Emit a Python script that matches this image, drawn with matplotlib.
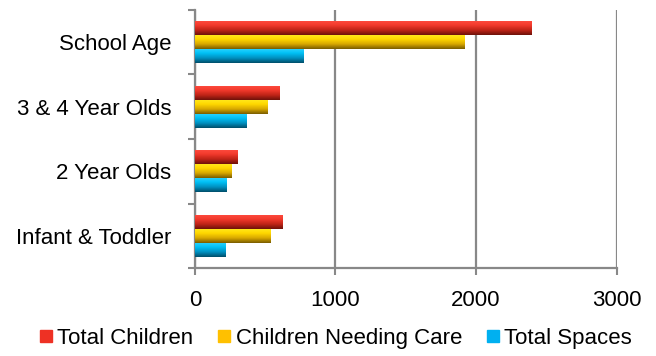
import matplotlib
matplotlib.use("Agg")
import matplotlib.pyplot as plt
import numpy as np
from matplotlib.colors import LinearSegmentedColormap
from matplotlib.lines import Line2D

categories = ["Infant & Toddler", "2 Year Olds", "3 & 4 Year Olds", "School Age"]
total_children = [624, 302, 600, 2390]
needing_care = [534, 257, 515, 1917]
total_spaces = [215, 227, 364, 770]
series_names = ["Total Children", "Children Needing Care", "Total Spaces"]
legend_colors = ["#EE3124", "#FFC000", "#00B0F0"]
grad_colors = [
    ["#FF4D40", "#F23A2C", "#C02418", "#6E120A"],
    ["#FFEA20", "#FFD800", "#D8A800", "#7A5C00"],
    ["#30D4FF", "#00C0F5", "#0090C0", "#004E6A"],
]

plt.rcParams["font.family"] = ["Liberation Sans", "DejaVu Sans"]
fig = plt.figure(figsize=(6.56, 3.56), dpi=100)
ax = fig.add_axes([0.297, 0.247, 0.643, 0.725])

y = np.arange(len(categories))
h = 0.217
offsets = [h, 0, -h]
data = [total_children, needing_care, total_spaces]
grad = np.linspace(0, 1, 64).reshape(-1, 1)
for vals, off, gc in zip(data, offsets, grad_colors):
    cmap = LinearSegmentedColormap.from_list("g", gc)
    bars = ax.barh(y + off, vals, height=h, color=gc[1], zorder=3)
    for b in bars:
        bb = b.get_bbox()
        im = ax.imshow(grad, cmap=cmap, aspect="auto",
                       extent=[bb.x0, bb.x1, bb.y0, bb.y1],
                       origin="upper", zorder=3.5)
        im.set_clip_path(b)

fs = 16
ax.set_xlim(0, 3000)
ax.set_ylim(-0.5, 3.5)
ax.set_xticks([0, 1000, 2000, 3000])
ax.set_xticklabels(["0", "1000", "2000", "3000"])
ax.set_yticks(np.arange(-0.5, 4, 1.0))
ax.set_yticklabels([])
ax.set_yticks(y, minor=True)
ax.set_yticklabels(categories, minor=True)
ax.tick_params(axis="y", which="minor", length=0, pad=17, labelsize=fs)
ax.tick_params(axis="y", which="major", length=5, width=1.5, color="#888888", direction="out")
ax.tick_params(axis="x", length=5, width=1.5, color="#888888", pad=11, labelsize=fs)

ax.grid(axis="x", color="#888888", linewidth=1.6, zorder=0)
for s in ["top", "right"]:
    ax.spines[s].set_visible(False)
for s in ["left", "bottom"]:
    ax.spines[s].set_color("#888888")
    ax.spines[s].set_linewidth(1.6)

handles = [Line2D([], [], marker="s", linestyle="none", markersize=8,
                  markerfacecolor=c, markeredgecolor=c) for c in legend_colors]
fig.legend(handles, series_names, loc="center", bbox_to_anchor=(0.51, 0.05),
           ncol=3, frameon=False, fontsize=fs, handletextpad=0.1,
           columnspacing=1.0, handlelength=0.8, borderaxespad=0)

fig.savefig("out.png", dpi=100)
